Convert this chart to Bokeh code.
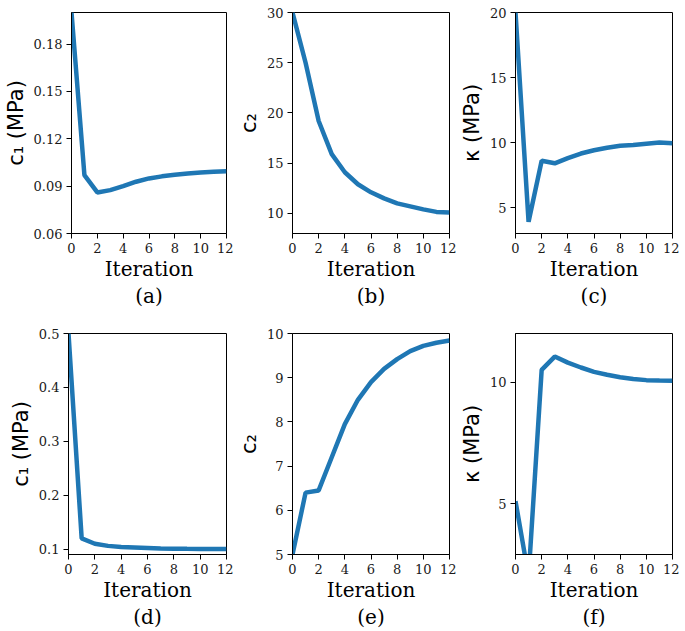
from bokeh.plotting import figure
from bokeh.layouts import row, column
from bokeh.models import Range1d, FixedTicker, PrintfTickFormatter, Title
from bokeh.embed import file_html
from bokeh.resources import INLINE

iterations = list(range(13))
x_ticks = [0, 2, 4, 6, 8, 10, 12]

c1_a = [0.200, 0.097, 0.086, 0.0875, 0.090, 0.0928, 0.0949, 0.0962, 0.0972, 0.0980, 0.0987, 0.0991, 0.0994]
c2_b = [30.0, 25.0, 19.2, 15.9, 14.1, 12.9, 12.1, 11.5, 11.0, 10.7, 10.4, 10.15, 10.1]
kappa_c = [20.0, 3.9, 8.6, 8.4, 8.8, 9.15, 9.4, 9.6, 9.75, 9.8, 9.9, 10.0, 9.95]
c1_d = [0.5, 0.120, 0.110, 0.106, 0.104, 0.103, 0.102, 0.101, 0.1008, 0.1005, 0.1003, 0.1001, 0.1]
c2_e = [5.0, 6.4, 6.45, 7.2, 7.95, 8.5, 8.9, 9.2, 9.42, 9.6, 9.72, 9.79, 9.84]
kappa_f = [5.1, 2.0, 10.5, 11.05, 10.8, 10.6, 10.42, 10.3, 10.2, 10.13, 10.08, 10.06, 10.05]

ticks_a = [0.06, 0.09, 0.12, 0.15, 0.18]
ticks_b = [10, 15, 20, 25, 30]
ticks_c = [5, 10, 15, 20]
ticks_d = [0.1, 0.2, 0.3, 0.4, 0.5]
ticks_e = [5, 6, 7, 8, 9, 10]
ticks_f = [5, 10]

SERIF = "DejaVu Serif"
SANS = "DejaVu Sans"


def panel(y, ylo, yhi, yticks, fmt, ylabel, sub, width, left, height, top, bottom):
    p = figure(width=width, height=height,
               x_range=Range1d(0, 12), y_range=Range1d(ylo, yhi),
               output_backend="svg", toolbar_location=None,
               min_border_left=left, min_border_right=7,
               min_border_top=top, min_border_bottom=bottom)
    p.line(iterations, y, line_width=4.5, color="#1f77b4")
    p.xgrid.visible = False
    p.ygrid.visible = False
    p.outline_line_color = "black"
    p.outline_line_alpha = 1.0
    p.background_fill_color = "white"
    p.border_fill_color = "white"
    p.axis.major_tick_out = 5
    p.axis.major_tick_in = 0
    p.axis.minor_tick_out = 0
    p.axis.minor_tick_in = 0
    p.axis.axis_line_color = "black"
    p.axis.major_tick_line_color = "black"
    p.axis.major_label_text_font = SERIF
    p.axis.major_label_text_font_size = "13px"
    p.axis.major_label_text_font_style = "normal"
    p.axis.major_label_text_color = "#1a1a1a"
    p.axis.major_label_standoff = 4
    p.axis.axis_label_text_font_style = "normal"
    p.axis.axis_label_text_color = "black"
    p.xaxis.ticker = FixedTicker(ticks=x_ticks)
    p.yaxis.ticker = FixedTicker(ticks=yticks)
    p.yaxis.formatter = PrintfTickFormatter(format=fmt)
    p.xaxis.axis_label = "Iteration"
    p.xaxis.axis_label_text_font = SERIF
    p.xaxis.axis_label_text_font_size = "20px"
    p.xaxis.axis_label_standoff = 1
    p.yaxis.axis_label = ylabel
    p.yaxis.axis_label_text_font = SANS
    p.yaxis.axis_label_text_font_size = "21px"
    p.yaxis.axis_label_standoff = 3
    p.add_layout(Title(text=sub, align="center", text_font=SERIF,
                       text_font_size="20px", text_font_style="normal",
                       text_color="black", standoff=-4.5, offset=0), "below")
    return p


# column geometry: (width, min_border_left)
W1, L1 = 233, 68
W2, L2 = 223, 58
W3, L3 = 223, 58
# row geometry: (height, min_border_top, min_border_bottom)
H1, T1, B1 = 324, 12, 91
H2, T2, B2 = 306, 9, 76

pa = panel(c1_a, 0.06, 0.20, ticks_a, "%.2f", "c\u2081 (MPa)", "(a)", W1, L1, H1, T1, B1)
pb = panel(c2_b, 8, 30, ticks_b, "%d", "c\u2082", "(b)", W2, L2, H1, T1, B1)
pc = panel(kappa_c, 3, 20, ticks_c, "%d", "\u03ba (MPa)", "(c)", W3, L3, H1, T1, B1)
pd = panel(c1_d, 0.09, 0.5, ticks_d, "%.1f", "c\u2081 (MPa)", "(d)", W1, L1, H2, T2, B2)
pe = panel(c2_e, 5, 10, ticks_e, "%d", "c\u2082", "(e)", W2, L2, H2, T2, B2)
pf = panel(kappa_f, 2.9, 12, ticks_f, "%d", "\u03ba (MPa)", "(f)", W3, L3, H2, T2, B2)

layout = column(row(pa, pb, pc), row(pd, pe, pf))

open("out.html", "w").write(file_html(layout, INLINE))
